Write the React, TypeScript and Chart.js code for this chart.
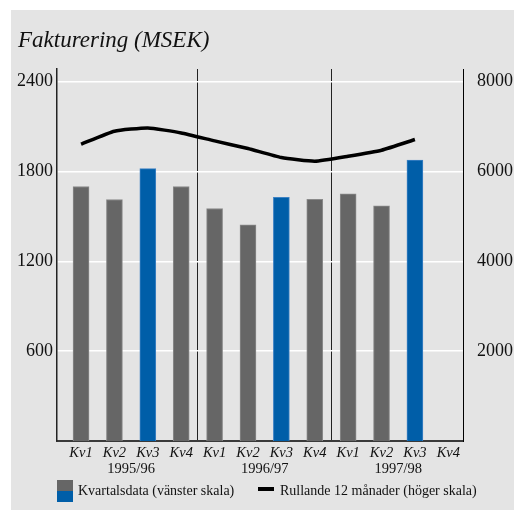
import React, { useEffect, useRef } from 'react';
import { Chart, registerables } from 'chart.js';

Chart.register(...registerables);

// ---- Data ----
const quarterLabels = ['Kv1', 'Kv2', 'Kv3', 'Kv4', 'Kv1', 'Kv2', 'Kv3', 'Kv4', 'Kv1', 'Kv2', 'Kv3', 'Kv4'];
const yearLabels = ['1995/96', '1996/97', '1997/98'];
const quarterlyValues = [1700, 1613, 1820, 1700, 1553, 1444, 1627, 1615, 1651, 1571, 1876];
const rollingValues = [6608, 6898, 6971, 6860, 6682, 6513, 6312, 6230, 6341, 6475, 6713];
const leftTicks = [600, 1200, 1800, 2400];
const rightTicks = [2000, 4000, 6000, 8000];

const titleText = 'Fakturering (MSEK)';
const barLegendText = 'Kvartalsdata (vänster skala)';
const lineLegendText = 'Rullande 12 månader (höger skala)';

// ---- Styles ----
const SERIF = '"Liberation Serif", "Times New Roman", serif';
const GRAY = '#666666';
const GRAY_EDGE = '#8a8a8a';
const BLUE = '#005ea8';
const BLUE_EDGE = '#3d82c4';
const PANEL = '#e4e4e4';
const Y_MAX = 2485;
const X_MIN = -0.72;
const X_MAX = 11.44;

export default function App() {
  const ref = useRef<HTMLCanvasElement>(null);

  useEffect(() => {
    const canvas = ref.current;
    if (!canvas) return;
    const isKv3 = (i: number) => quarterLabels[i] === 'Kv3';
    const barColors = quarterlyValues.map((_, i) => (isKv3(i) ? BLUE : GRAY));
    const barEdges = quarterlyValues.map((_, i) => (isKv3(i) ? BLUE_EDGE : GRAY_EDGE));
    const groupSize = 4;
    const yearTickValues: number[] = [];
    for (let g = 0; g < yearLabels.length; g++) {
      yearTickValues.push(g * groupSize + 1.5);
      if (g < yearLabels.length - 1) yearTickValues.push(g * groupSize + 3.5);
    }

    const chart = new Chart(canvas, {
      type: 'bar',
      data: {
        datasets: [
          {
            type: 'line',
            label: lineLegendText,
            data: rollingValues.map((v, i) => ({ x: i, y: v })),
            xAxisID: 'x',
            yAxisID: 'y1',
            borderColor: '#000000',
            borderWidth: 3.5,
            pointRadius: 0,
            tension: 0.15,
            fill: false,
            order: 0,
          } as any,
          {
            type: 'bar',
            label: barLegendText,
            data: quarterlyValues.map((v, i) => ({ x: i, y: v })),
            xAxisID: 'x',
            yAxisID: 'y',
            backgroundColor: barColors,
            borderColor: barEdges,
            borderWidth: 1,
            barThickness: 16,
            order: 1,
          } as any,
        ],
      },
      options: {
        responsive: false,
        animation: false,
        events: [],
        layout: { padding: { top: 69, bottom: 31, left: 0, right: 0 } },
        plugins: {
          legend: { display: false },
          tooltip: { enabled: false },
          title: { display: false },
        },
        scales: {
          x: {
            type: 'linear',
            position: 'bottom',
            weight: 0,
            min: X_MIN,
            max: X_MAX,
            offset: false,
            grid: { display: false, drawTicks: false, offset: false },
            border: { display: true, color: '#3a3a3a', width: 2 },
            afterBuildTicks: (s: any) => {
              s.ticks = quarterLabels.map((_, i) => ({ value: i }));
            },
            afterFit: (s: any) => {
              s.height = 18;
            },
            ticks: {
              autoSkip: false,
              maxRotation: 0,
              padding: 3,
              color: '#111111',
              font: { family: SERIF, size: 14.5, style: 'italic' },
              callback: (v: any) => quarterLabels[Math.round(Number(v))] ?? '',
            },
          },
          x2: {
            type: 'linear',
            position: 'bottom',
            weight: 1,
            min: X_MIN,
            max: X_MAX,
            offset: false,
            grid: {
              display: true,
              drawTicks: false,
              offset: false,
              lineWidth: 1,
              color: (ctx: any) =>
                ctx.tick && ctx.tick.value % groupSize === 3.5 ? '#222222' : 'rgba(0,0,0,0)',
            },
            border: { display: false },
            afterBuildTicks: (s: any) => {
              s.ticks = yearTickValues.map((v) => ({ value: v }));
            },
            afterFit: (s: any) => {
              s.height = 20;
            },
            ticks: {
              autoSkip: false,
              maxRotation: 0,
              padding: 1,
              color: '#111111',
              font: { family: SERIF, size: 14.5 },
              callback: (v: any) => {
                const n = Number(v);
                if ((n - 1.5) % groupSize === 0) return yearLabels[(n - 1.5) / groupSize];
                return '';
              },
            },
          },
          y: {
            type: 'linear',
            position: 'left',
            min: 0,
            max: Y_MAX,
            z: 1,
            grid: {
              color: '#ffffff',
              lineWidth: 1.5,
              drawTicks: false,
            },
            border: { display: true, color: '#222222', width: 1.5 },
            afterBuildTicks: (s: any) => {
              s.ticks = leftTicks.map((v) => ({ value: v }));
            },
            afterFit: (s: any) => {
              s.width = 57;
            },
            ticks: {
              padding: 4,
              color: '#111111',
              font: { family: SERIF, size: 18 },
              callback: (v: any) => String(v),
            },
          },
          y1: {
            type: 'linear',
            position: 'right',
            min: 0,
            max: (Y_MAX * 10) / 3,
            grid: { display: false, drawTicks: false },
            border: { display: true, color: '#000000', width: 1 },
            afterBuildTicks: (s: any) => {
              s.ticks = rightTicks.map((v) => ({ value: v }));
            },
            afterFit: (s: any) => {
              s.width = 51;
            },
            ticks: {
              padding: 14,
              color: '#111111',
              font: { family: SERIF, size: 18 },
              callback: (v: any) => String(v),
            },
          },
        },
      } as any,
    });
    return () => chart.destroy();
  }, []);

  return (
    <div style={{ position: 'absolute', left: 0, top: 0, width: 514, height: 510, background: '#ffffff', overflow: 'hidden' }}>
      <div style={{ position: 'absolute', left: 11, top: 10, right: 0, bottom: 0, background: PANEL }} />
      <canvas ref={ref} width={514} height={510} style={{ position: 'absolute', left: 0, top: 0, display: 'block' }} />
      <div
        style={{
          position: 'absolute',
          left: 18,
          top: 28,
          fontFamily: SERIF,
          fontStyle: 'italic',
          fontSize: 23,
          lineHeight: 1,
          color: '#111111',
          whiteSpace: 'nowrap',
        }}
      >
        {titleText}
      </div>
      <div style={{ position: 'absolute', left: 57, top: 480, width: 16, height: 11, background: GRAY }} />
      <div style={{ position: 'absolute', left: 57, top: 491, width: 16, height: 11, background: BLUE }} />
      <div
        style={{
          position: 'absolute',
          left: 78,
          top: 484,
          fontFamily: SERIF,
          fontSize: 14,
          lineHeight: 1,
          color: '#111111',
          whiteSpace: 'nowrap',
        }}
      >
        {barLegendText}
      </div>
      <div style={{ position: 'absolute', left: 258, top: 487, width: 16, height: 4, background: '#000000' }} />
      <div
        style={{
          position: 'absolute',
          left: 280,
          top: 484,
          fontFamily: SERIF,
          fontSize: 14,
          lineHeight: 1,
          color: '#111111',
          whiteSpace: 'nowrap',
        }}
      >
        {lineLegendText}
      </div>
    </div>
  );
}
